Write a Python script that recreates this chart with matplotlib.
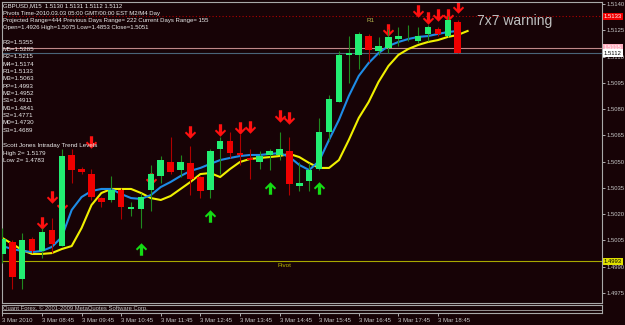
import numpy as np
import matplotlib
matplotlib.use('Agg')
import matplotlib.pyplot as plt
from matplotlib.path import Path
from matplotlib.transforms import blended_transform_factory

plt.rcParams['font.family'] = ['Liberation Sans', 'DejaVu Sans']

# GBPUSD M15, 3 Mar 2010, bars from 07:45
opens = [1.4997, 1.5004, 1.4983, 1.5006, 1.4999, 1.5011, 1.5002, 1.5054, 1.5046, 1.5043,
         1.5029, 1.5028, 1.5034, 1.5023, 1.5023, 1.5034, 1.5042, 1.5050, 1.5045, 1.5049,
         1.5041, 1.5034, 1.5057, 1.5062, 1.5055, 1.5052, 1.5050, 1.5054, 1.5054, 1.5056,
         1.5036, 1.5039, 1.5046, 1.5067, 1.5084, 1.5111, 1.5111, 1.5122, 1.5113, 1.5115,
         1.5120, 1.5121, 1.5119, 1.5123, 1.5126, 1.5122, 1.5130]
highs = [1.5012, 1.5005, 1.5009, 1.5007, 1.5012, 1.5018, 1.5057, 1.5057, 1.5047, 1.5046,
         1.5030, 1.5042, 1.5035, 1.5027, 1.5032, 1.5048, 1.5053, 1.5064, 1.5054, 1.5059,
         1.5042, 1.5057, 1.5064, 1.5067, 1.5066, 1.5057, 1.5056, 1.5057, 1.5067, 1.5064,
         1.5050, 1.5049, 1.5075, 1.5088, 1.5113, 1.5122, 1.5124, 1.5123, 1.5121, 1.5126,
         1.5127, 1.5128, 1.5127, 1.5128, 1.5127, 1.5133, 1.5131]
lows = [1.4992, 1.4977, 1.4977, 1.4998, 1.4995, 1.4998, 1.5002, 1.5038, 1.5043, 1.5028,
        1.5024, 1.5027, 1.5017, 1.5019, 1.5012, 1.5022, 1.5038, 1.5043, 1.5041, 1.5031,
        1.5029, 1.5029, 1.5043, 1.5052, 1.5048, 1.5040, 1.5046, 1.5045, 1.5051, 1.5031,
        1.5033, 1.5033, 1.5045, 1.5062, 1.5084, 1.5095, 1.5103, 1.5107, 1.5111, 1.5112,
        1.5116, 1.5119, 1.5118, 1.5119, 1.5122, 1.5121, 1.5112]
closes = [1.5006, 1.4984, 1.5005, 1.4999, 1.5010, 1.5003, 1.5053, 1.5045, 1.5044, 1.5030,
          1.5027, 1.5034, 1.5024, 1.5024, 1.5030, 1.5043, 1.5051, 1.5044, 1.5050, 1.5040,
          1.5033, 1.5056, 1.5062, 1.5055, 1.5054, 1.5051, 1.5053, 1.5056, 1.5057, 1.5037,
          1.5038, 1.5045, 1.5067, 1.5086, 1.5111, 1.5112, 1.5123, 1.5114, 1.5116, 1.5121,
          1.5122, 1.5121, 1.5122, 1.5127, 1.5123, 1.5131, 1.5112]

# moving averages
ma_fast = [1.50018, 1.50001, 1.49990, 1.49984, 1.49990, 1.50013, 1.50070, 1.50224, 1.50298, 1.50332,
           1.50344, 1.50344, 1.50315, 1.50292, 1.50287, 1.50309, 1.50355, 1.50384, 1.50418, 1.50447,
           1.50464, 1.50487, 1.50509, 1.50521, 1.50532, 1.50538, 1.50538, 1.50544, 1.50549, 1.50527,
           1.50481, 1.50452, 1.50504, 1.50624, 1.50738, 1.50875, 1.50989, 1.51063, 1.51120, 1.51160,
           1.51183, 1.51200, 1.51212, 1.51217, 1.51229, 1.51240, 1.51246]
ma_slow = [1.50064, 1.50030, 1.49995, 1.49973, 1.49973, 1.49978, 1.50001, 1.50018, 1.50121, 1.50252,
           1.50321, 1.50344, 1.50344, 1.50344, 1.50321, 1.50292, 1.50281, 1.50304, 1.50344, 1.50384,
           1.50429, 1.50435, 1.50412, 1.50458, 1.50498, 1.50515, 1.50521, 1.50526, 1.50532, 1.50544,
           1.50526, 1.50492, 1.50464, 1.50464, 1.50509, 1.50624, 1.50749, 1.50840, 1.50955, 1.51046,
           1.51109, 1.51143, 1.51166, 1.51183, 1.51194, 1.51212, 1.51223, 1.51246]

sell_bars = [4, 5, 6, 9, 15, 19, 22, 24, 25, 28, 29, 39, 42, 43, 44, 45, 46]
sell_prices = [1.5015, 1.5030, 1.5025, 1.5061, 1.5040, 1.5067, 1.5068, 1.5069, 1.5070, 1.5076,
               1.5075, 1.5125, 1.5136, 1.5132, 1.5134, 1.5134, 1.5138]
buy_bars = [14, 21, 27, 32]
buy_prices = [1.5000, 1.5019, 1.5035, 1.5035]

r1_level = 1.5133
ask_level = 1.5115
bid_level = 1.5112
pivot_level = 1.4993

price_ticks = [1.4975, 1.4990, 1.5005, 1.5020, 1.5035, 1.5050, 1.5065, 1.5080, 1.5095, 1.5110,
               1.5125, 1.5140]
time_ticks = [0, 4, 8, 12, 16, 20, 24, 28, 32, 36, 40, 44]
time_labels = ['3 Mar 2010', '3 Mar 08:45', '3 Mar 09:45', '3 Mar 10:45', '3 Mar 11:45',
               '3 Mar 12:45', '3 Mar 13:45', '3 Mar 14:45', '3 Mar 15:45', '3 Mar 16:45',
               '3 Mar 17:45', '3 Mar 18:45']

header_lines = ['GBPUSD,M15  1.5130 1.5131 1.5112 1.5112',
                'Pivots Time-2010.03.03 05:00 GMT/00:00 EST M2/M4 Day',
                'Projected Range=444 Previous Days Range= 222 Current Days Range= 155',
                'Open=1.4926 High=1.5075 Low=1.4853 Close=1.5051']
pivot_names = ['R3', 'M5', 'R2', 'M4', 'R1', 'M3', 'PP', 'M2', 'S1', 'M1', 'S2', 'M0', 'S3']
pivot_values = [1.5355, 1.5285, 1.5215, 1.5174, 1.5133, 1.5063, 1.4993, 1.4952, 1.4911,
                1.4841, 1.4771, 1.4730, 1.4689]
trend_lines = ['Scott Jones Intraday Trend Levels', 'High 2= 1.5179', 'Low 2= 1.4783']

BG = '#170306'
FG = '#c8c8c8'
W, H = 625, 325

fig = plt.figure(figsize=(W / 100, H / 100), dpi=100, facecolor=BG)
ax = fig.add_axes([2 / W, 22 / H, 600 / W, 301 / H], facecolor=BG)
sub = fig.add_axes([2 / W, 12 / H, 600 / W, 8 / H], facecolor=BG, sharex=ax)

n = len(opens)
x = np.arange(n)
o = np.array(opens)
c = np.array(closes)
up = c >= o
body_col = np.where(up, '#22ee72', '#f00000')
wick_col = np.where(up, '#1f8a1f', '#b00000')
bottoms = np.minimum(o, c)
heights = np.maximum(np.abs(c - o), 0.00004)

# horizontal levels
ax.axhline(r1_level, color='#b00000', lw=0.8, ls=(0, (1, 2)), zorder=1)
ax.axhline(ask_level, color='#c08888', lw=0.8, zorder=1)
ax.axhline(bid_level, color='#4a6478', lw=0.8, zorder=1)
ax.axhline(pivot_level, color='#a8a800', lw=0.8, zorder=1)
ax.annotate('R1', xy=(36.8, r1_level), xytext=(0, -1), textcoords='offset points',
            va='top', fontsize=4.5, color='#b8b850')
ax.annotate('Pivot', xy=(27.8, pivot_level), xytext=(0, -1), textcoords='offset points',
            va='top', fontsize=4.5, color='#b8b800')

# moving averages
ax.plot(np.arange(len(ma_slow)), ma_slow, color='#f0f000', lw=1.5, zorder=2)
ax.plot(np.arange(len(ma_fast)), ma_fast, color='#1e8ce6', lw=1.5, zorder=2)

# signal arrows
down = Path([(0, -0.5), (0.45, -0.04), (0.35, 0.08), (0.13, -0.12), (0.13, 0.5),
             (-0.13, 0.5), (-0.13, -0.12), (-0.35, 0.08), (-0.45, -0.04), (0, -0.5)])
upm = Path([(vx, -vy) for vx, vy in down.vertices])
ax.plot(sell_bars, sell_prices, ls='none', marker=down, ms=9, color='#ff1010', mew=0, zorder=2.5)
ax.plot(buy_bars, buy_prices, ls='none', marker=upm, ms=9, color='#14dc14', mew=0, zorder=2.5)

# candles
ax.vlines(x, lows, highs, colors=wick_col, lw=0.8, zorder=3)
ax.bar(x, heights, bottom=bottoms, width=0.66, color=body_col, lw=0, zorder=4)

ax.set_xlim(-0.04, 60.58)
ax.set_ylim(1.496929, 1.514114)
ax.yaxis.tick_right()
ax.set_yticks(price_ticks)
ax.set_yticklabels(['%.4f' % p for p in price_ticks])
ax.tick_params(axis='y', direction='out', length=2, width=0.6, colors=FG, labelsize=4.2, pad=1)
ax.tick_params(axis='x', bottom=False, labelbottom=False)
for s in ax.spines.values():
    s.set_color('#a8a8a8')
    s.set_linewidth(0.8)

# price boxes on the axis
trans = blended_transform_factory(ax.transAxes, ax.transData)
for p, fc, tc in [(r1_level, '#f00000', 'white'), (ask_level, '#ffb0c0', 'white'),
                  (bid_level, 'white', 'black'), (pivot_level, '#e0e000', 'black')]:
    ax.text(1.003, p, '%.4f' % p, transform=trans, fontsize=4.2, va='center', ha='left',
            color=tc, zorder=10, clip_on=False,
            bbox=dict(boxstyle='square,pad=0.2', fc=fc, ec='none'))

# sub window with time axis
sub.set_yticks([])
sub.axhline(0.4, color='#a8a8a8', lw=0.6)
sub.set_ylim(0, 1)
sub.set_xticks(time_ticks)
sub.set_xticklabels(time_labels)
for lab in sub.get_xticklabels():
    lab.set_ha('left')
sub.tick_params(axis='x', direction='out', length=2, width=0.6, colors=FG, labelsize=4.3, pad=1.5)
for s in sub.spines.values():
    s.set_color('#a8a8a8')
    s.set_linewidth(0.8)
sub.text(0.002, 0.62, 'Quant Forex, \u00a9 2001-2009 MetaQuotes Software Corp.',
         transform=sub.transAxes, fontsize=4.2, color=FG, va='center')

# texts top-left
for k, t in enumerate(header_lines):
    fig.text(3 / W, 1 - (6 + 7.2 * k) / H, t, fontsize=4.3, color='#ececec', va='center')
for k, (nm, v) in enumerate(zip(pivot_names, pivot_values)):
    fig.text(3 / W, 1 - (42.3 + 7.33 * k) / H, '%s=%.4f' % (nm, v), fontsize=4.5,
             color='#ececec', va='center')
for k, t in enumerate(trend_lines):
    fig.text(3 / W, 1 - (145.7 + 7.6 * k) / H, t, fontsize=4.5, color='#ececec', va='center')

fig.text(477 / W, 1 - 21.5 / H, '7x7 warning', fontsize=10, color='#c0c0c0', va='center')

fig.savefig('out.png', dpi=100, facecolor=BG)
